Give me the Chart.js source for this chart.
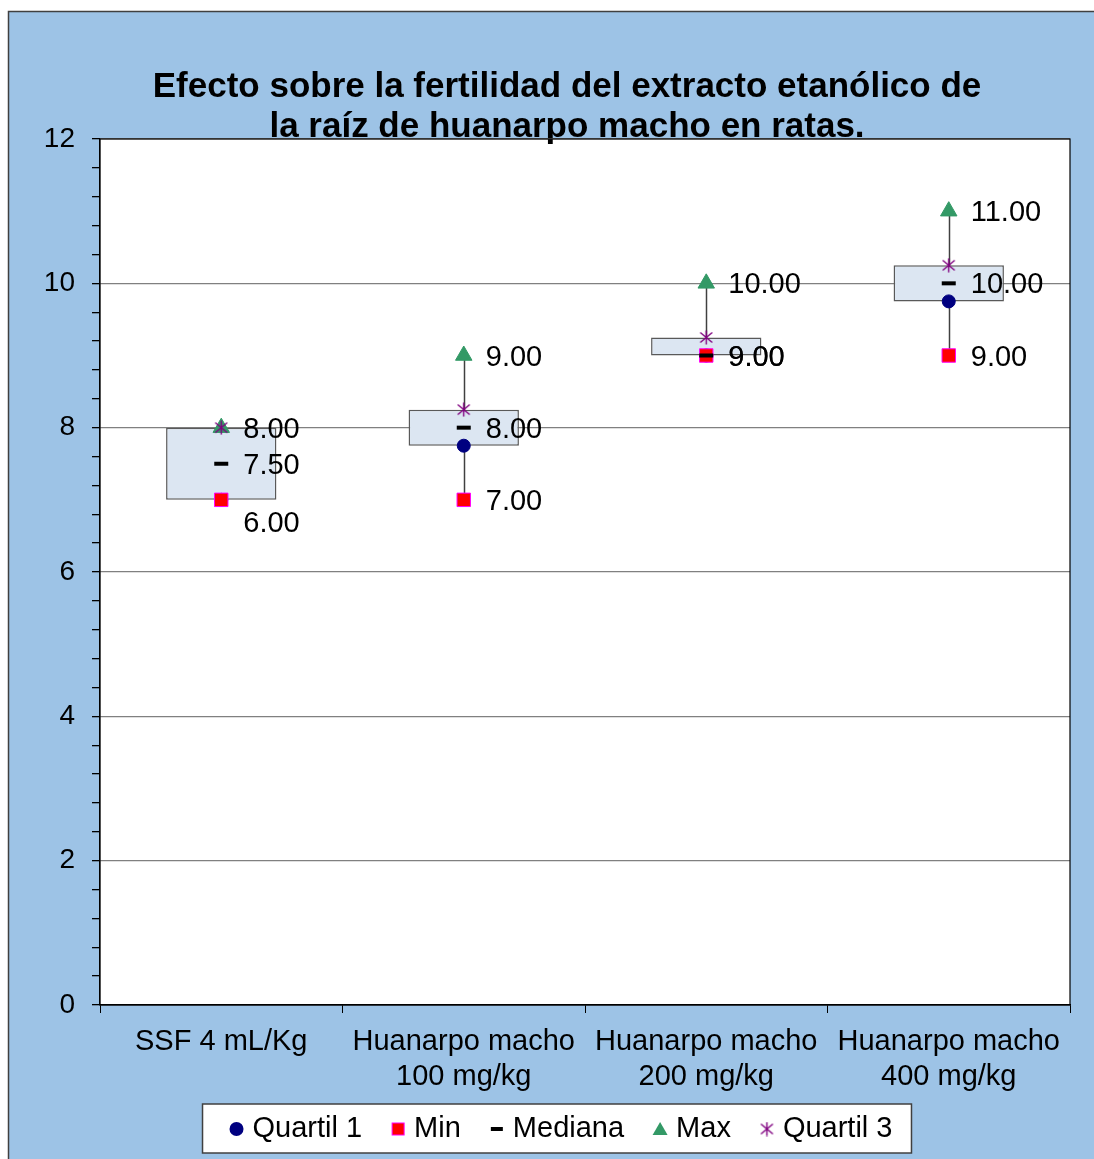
<!DOCTYPE html>
<html>
<head>
<meta charset="utf-8">
<script src="https://cdn.jsdelivr.net/npm/chart.js@4"></script>
<style>
  body { margin: 0; background: #ffffff; }
  #wrap { width: 1094px; height: 1159px; }
</style>
</head>
<body>
<div id="wrap"><canvas id="chart" width="1094" height="1159"></canvas></div>
<script>
// datos
const categories = [
  ["SSF 4 mL/Kg"],
  ["Huanarpo macho", "100 mg/kg"],
  ["Huanarpo macho", "200 mg/kg"],
  ["Huanarpo macho", "400 mg/kg"]
];
const quartil1 = [7, 7.75, 9, 9.75];
const minimo = [7, 7, 9, 9];
const mediana = [7.5, 8, 9, 10];
const maximo = [8, 9, 10, 11];
const quartil3 = [8, 8.25, 9.25, 10.25];

// etiquetas de datos como aparecen en el gráfico
const maxText = ["8.00", "9.00", "10.00", "11.00"];
const medText = ["7.50", "8.00", "9.00", "10.00"];
const minText = ["6.00", "7.00", "9.00", "9.00"];

const yTicks = [];
for (let i = 0; i <= 30; i++) yTicks.push(Math.round(i * 0.4 * 10) / 10);

const isMajor = v => Math.abs(v / 2 - Math.round(v / 2)) < 1e-6;

// estrella de Excel: X con linea vertical
const star = document.createElement("canvas");
star.width = 15; star.height = 15;
(function () {
  const c = star.getContext("2d");
  c.strokeStyle = "#800080";
  c.lineWidth = 1.4;
  c.beginPath();
  c.moveTo(1.5, 2.5); c.lineTo(13.5, 12.5);
  c.moveTo(13.5, 2.5); c.lineTo(1.5, 12.5);
  c.moveTo(7.5, 0.5); c.lineTo(7.5, 14.5);
  c.stroke();
})();

const FONT = "'Liberation Sans', Arial, sans-serif";

// dibuja el simbolo de cada serie en la leyenda
function marker(ctx, kind, x, y) {
  ctx.save();
  if (kind === "circle") {
    ctx.fillStyle = "#000080";
    ctx.beginPath(); ctx.arc(x, y, 7, 0, Math.PI * 2); ctx.fill();
  } else if (kind === "rect") {
    ctx.fillStyle = "#FF0000"; ctx.strokeStyle = "#FF00FF"; ctx.lineWidth = 1;
    ctx.fillRect(x - 6, y - 6, 12, 12); ctx.strokeRect(x - 6, y - 6, 12, 12);
  } else if (kind === "line") {
    ctx.fillStyle = "#000000";
    ctx.fillRect(x - 6, y - 2, 12, 4);
  } else if (kind === "triangle") {
    ctx.fillStyle = "#339966";
    ctx.beginPath(); ctx.moveTo(x, y - 7); ctx.lineTo(x + 7.5, y + 6); ctx.lineTo(x - 7.5, y + 6);
    ctx.closePath(); ctx.fill();
  } else {
    ctx.drawImage(star, x - 7.5, y - 7.5);
  }
  ctx.restore();
}

const fondo = {
  id: "fondo",
  beforeDraw(chart) {
    const ctx = chart.ctx;
    ctx.save();
    ctx.fillStyle = "#9DC3E6";
    ctx.fillRect(8, 11, chart.width - 8, chart.height - 11);
    ctx.strokeStyle = "#404040";
    ctx.lineWidth = 1.5;
    ctx.beginPath();
    ctx.moveTo(8.5, chart.height);
    ctx.lineTo(8.5, 11.5);
    ctx.lineTo(chart.width, 11.5);
    ctx.stroke();
    const a = chart.chartArea;
    ctx.fillStyle = "#ffffff";
    ctx.fillRect(a.left, a.top, a.right - a.left, a.bottom - a.top);
    // titulo
    ctx.fillStyle = "#000000";
    ctx.font = "bold 35px " + FONT;
    ctx.textAlign = "center";
    ctx.textBaseline = "middle";
    ctx.fillText("Efecto sobre la fertilidad del extracto etanólico de", 567, 87);
    ctx.fillText("la raíz de huanarpo macho en ratas.", 567, 127);
    ctx.restore();
  },
  beforeDatasetsDraw(chart) {
    // lineas max-min
    const ctx = chart.ctx;
    const x = chart.scales.x, y = chart.scales.y;
    ctx.save();
    ctx.strokeStyle = "#404040";
    ctx.lineWidth = 1.5;
    minimo.forEach((v, i) => {
      const px = Math.round(x.getPixelForValue(i)) + 0.5;
      ctx.beginPath();
      ctx.moveTo(px, y.getPixelForValue(v));
      ctx.lineTo(px, y.getPixelForValue(maximo[i]));
      ctx.stroke();
    });
    ctx.restore();
  },
  afterDatasetsDraw(chart) {
    const ctx = chart.ctx;
    const x = chart.scales.x, y = chart.scales.y;
    const a = chart.chartArea;
    ctx.save();
    ctx.strokeStyle = "#000000";
    ctx.lineWidth = 1.2;
    ctx.strokeRect(a.left, a.top, a.right - a.left, a.bottom - a.top);
    ctx.fillStyle = "#000000";
    ctx.font = "29px " + FONT;
    ctx.textAlign = "left";
    ctx.textBaseline = "middle";
    const put = (vals, texts) => vals.forEach((v, i) => {
      let py = y.getPixelForValue(v) + 2;
      if (Math.abs(parseFloat(texts[i]) - v) > 1e-6) py += 22;
      ctx.fillText(texts[i], x.getPixelForValue(i) + 22, py);
    });
    put(maximo, maxText);
    put(mediana, medText);
    put(minimo, minText);
    ctx.restore();
  },
  afterDraw(chart) {
    // leyenda con recuadro
    const ctx = chart.ctx;
    const items = chart.data.datasets.filter(d => d.legendKind);
    ctx.save();
    ctx.font = "29px " + FONT;
    const widths = items.map(d => ctx.measureText(d.label).width);
    const total = widths.reduce((s, w) => s + w + 16, 0) + 36 * (items.length - 1) + 7;
    let mx = 561 - total / 2 + 7;
    const cy = 1129;
    const boxL = mx - 34;
    let lastEnd = 0;
    const spots = items.map((d, i) => {
      const s = { d, mx, tx: mx + 16 };
      lastEnd = s.tx + widths[i];
      mx = lastEnd + 36;
      return s;
    });
    const boxR = lastEnd + 19;
    ctx.fillStyle = "#ffffff";
    ctx.fillRect(boxL, 1104, boxR - boxL, 49);
    ctx.strokeStyle = "#404040";
    ctx.lineWidth = 1.5;
    ctx.strokeRect(boxL, 1104, boxR - boxL, 49);
    ctx.fillStyle = "#000000";
    ctx.textAlign = "left";
    ctx.textBaseline = "middle";
    spots.forEach(s => {
      marker(ctx, s.d.legendKind, s.mx, cy);
      ctx.fillStyle = "#000000";
      ctx.fillText(s.d.label, s.tx, cy);
    });
    ctx.restore();
  }
};

const pts = (label, data, extra) => Object.assign({
  type: "line",
  label: label,
  data: data,
  showLine: false,
  pointHoverRadius: 8
}, extra);

new Chart(document.getElementById("chart"), {
  type: "bar",
  data: {
    labels: categories,
    datasets: [
      pts("Quartil 1", quartil1, { order: 4, legendKind: "circle", pointStyle: "circle", pointRadius: 6.5,
        backgroundColor: "#000080", borderColor: "#000080", pointBorderWidth: 1 }),
      pts("Min", minimo, { order: 2, legendKind: "rect", pointStyle: "rect", pointRadius: 9.5,
        backgroundColor: "#FF0000", borderColor: "#FF00FF", pointBorderWidth: 1 }),
      pts("Mediana", mediana, { order: 0, legendKind: "line", pointStyle: "line", pointRadius: 7,
        backgroundColor: "#000000", borderColor: "#000000", pointBorderWidth: 4 }),
      pts("Max", maximo, { order: 3, legendKind: "triangle", pointStyle: "triangle", pointRadius: 9.5,
        backgroundColor: "#339966", borderColor: "#339966", pointBorderWidth: 1 }),
      pts("Quartil 3", quartil3, { order: 1, legendKind: "star", pointStyle: star,
        backgroundColor: "#800080", borderColor: "#800080", pointBorderWidth: 1 }),
      {
        type: "bar",
        label: "caja",
        order: 5,
        data: quartil1.map((q, i) => [q, quartil3[i]]),
        backgroundColor: "#DCE6F2",
        borderColor: "#595959",
        borderWidth: 1.5,
        borderSkipped: false,
        barPercentage: 0.455,
        categoryPercentage: 1
      }
    ]
  },
  options: {
    responsive: false,
    animation: false,
    layout: { padding: { left: 8, right: 24, top: 139, bottom: 54 } },
    plugins: {
      title: { display: false },
      tooltip: { enabled: false },
      legend: { display: false }
    },
    scales: {
      x: {
        offset: true,
        grid: { offset: true, drawOnChartArea: false, tickLength: 8, color: "#000000", tickColor: "#000000" },
        border: { display: true, color: "#000000", width: 1.2 },
        ticks: {
          padding: 12,
          color: "#000000",
          maxRotation: 0,
          autoSkip: false,
          font: { family: FONT, size: 29, lineHeight: 1.2 }
        },
        afterFit(scale) { scale.height = 100; }
      },
      y: {
        min: 0,
        max: 12,
        afterBuildTicks(axis) { axis.ticks = yTicks.map(v => ({ value: v })); },
        grid: {
          tickLength: 8,
          color: ctx => (ctx.tick && isMajor(ctx.tick.value)) ? "#808080" : "rgba(0,0,0,0)",
          tickColor: "#000000",
          lineWidth: 1.3
        },
        border: { display: true, color: "#000000", width: 1.2 },
        ticks: {
          padding: 17,
          color: "#000000",
          autoSkip: false,
          font: { family: FONT, size: 28 },
          callback: v => isMajor(v) ? String(Math.round(v)) : ""
        },
        afterFit(scale) { scale.width = 92; }
      }
    }
  },
  plugins: [fondo]
});
</script>
</body>
</html>
